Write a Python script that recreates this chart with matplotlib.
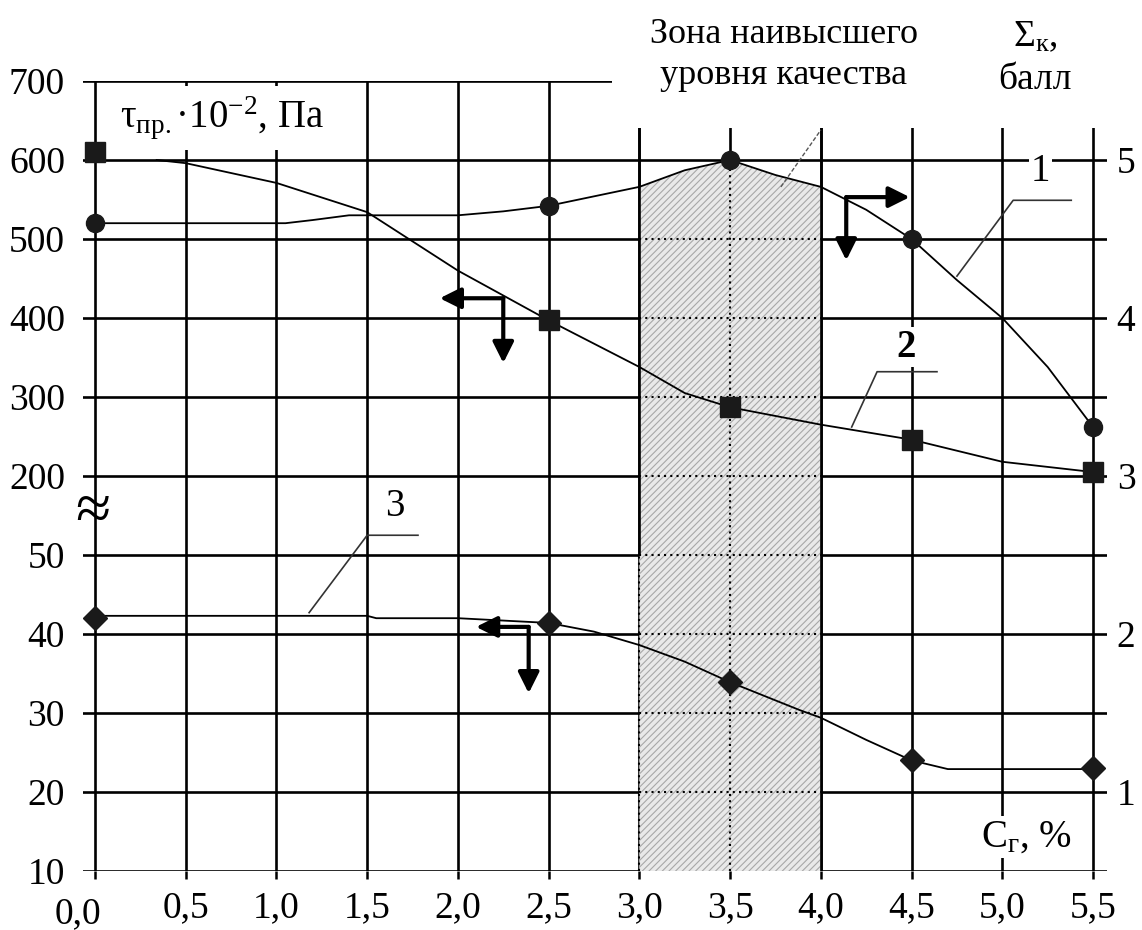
import numpy as np
import matplotlib
matplotlib.use("Agg")
import matplotlib.pyplot as plt
from matplotlib.patches import Polygon, Rectangle
from matplotlib.transforms import blended_transform_factory, ScaledTranslation

plt.rcParams['font.family'] = ['Liberation Serif', 'DejaVu Serif']
plt.rcParams['mathtext.fontset'] = 'custom'
plt.rcParams['mathtext.rm'] = 'Liberation Serif'
plt.rcParams['mathtext.it'] = 'Liberation Serif:italic'
plt.rcParams['mathtext.bf'] = 'Liberation Serif:bold'
plt.rcParams['hatch.linewidth'] = 0.8

# axes
x_ticks = [0.0, 0.5, 1.0, 1.5, 2.0, 2.5, 3.0, 3.5, 4.0, 4.5, 5.0, 5.5]
x_labels = ["0,0", "0,5", "1,0", "1,5", "2,0", "2,5", "3,0", "3,5", "4,0", "4,5", "5,0", "5,5"]
y_ticks = [10, 20, 30, 40, 50, 200, 300, 400, 500, 600, 700]
y_labels = ["10", "20", "30", "40", "50", "200", "300", "400", "500", "600", "700"]
r_ticks = [1, 2, 3, 4, 5]
r_labels = ["1", "2", "3", "4", "5"]

# broken left scale: 10..50 and 200..700
y_break = [10, 50, 200, 700]
y_break_pos = [0, 4, 5, 10]

# measured points
x_pts = [0.0, 2.5, 3.5, 4.5, 5.5]
score_pts = [4.6, 4.71, 5.0, 4.5, 3.31]      # 1: Σк, балл (right axis)
tau_pts = [610, 397, 287, 246, 205]          # 2: τпр·10^-2, Па
tau3_pts = [42, 41.4, 33.9, 24, 23]          # 3

# hand drawn curves through the points
score_line_x = [0.0, 1.05, 1.2, 1.4, 2.0, 2.25, 2.5, 3.0, 3.25, 3.5, 3.75, 4.0, 4.25, 4.5, 4.75, 5.0, 5.25, 5.5]
score_line = [4.6, 4.6, 4.62, 4.65, 4.65, 4.675, 4.71, 4.83, 4.935, 5.0, 4.905, 4.83, 4.685, 4.5, 4.24, 4.0, 3.69, 3.31]
tau_line_x = [0.34, 0.5, 1.0, 1.5, 2.0, 2.5, 3.0, 3.25, 3.5, 4.0, 4.5, 5.0, 5.5]
tau_line = [600, 596, 571, 534, 460, 397, 338, 305, 287, 265, 246, 218, 205]
tau3_line_x = [0.0, 1.5, 1.55, 2.0, 2.5, 2.75, 3.0, 3.25, 3.5, 3.88, 4.0, 4.25, 4.5, 4.7, 5.5]
tau3_line = [42.3, 42.3, 42.0, 42.0, 41.4, 40.3, 38.6, 36.5, 33.9, 30.4, 29.4, 26.6, 24.0, 22.9, 22.9]

zone_x = [3.0, 4.0]


def fwd(v):
    return np.interp(v, y_break, y_break_pos)


def inv(k):
    return np.interp(k, y_break_pos, y_break)


fig = plt.figure(figsize=(11.42, 9.30), dpi=100)
ax = fig.add_axes([83 / 1142, 59 / 930, 1024 / 1142, 790 / 930])
ax.set_yscale('function', functions=(fwd, inv))
ax2 = ax.twinx()

for a in (ax, ax2):
    for s in a.spines.values():
        s.set_visible(False)

ax.set_xticks(x_ticks)
ax.set_xticklabels(x_labels)
ax.set_yticks(y_ticks)
ax.set_yticklabels(y_labels)
ax2.set_yticks(r_ticks)
ax2.set_yticklabels(r_labels)
ax.tick_params(axis='x', length=6, width=1.8, pad=8, labelsize=27)
ax.tick_params(axis='y', length=0, pad=13, labelsize=27)
ax2.tick_params(axis='y', length=0, pad=7, labelsize=27)
ax.grid(True, color='k', lw=1.9)

# zone of the highest quality
zone_vx = [x for x in score_line_x if zone_x[0] <= x <= zone_x[1]]
zone_vy = [y for x, y in zip(score_line_x, score_line) if zone_x[0] <= x <= zone_x[1]]
verts = list(zip(zone_vx, zone_vy)) + [(zone_x[1], 0.5), (zone_x[0], 0.5)]
ax.add_patch(Polygon(verts, closed=True, transform=ax2.transData, facecolor='#e9e9e9',
                     edgecolor='#a8a8a8', hatch='/////', lw=0, zorder=1.6))
dot = (0, (1, 2))
ax.hlines([v for v in y_ticks[1:-2]], zone_x[0], zone_x[1], colors='k', linestyles=[dot], lw=1.5, zorder=1.7)
ax.vlines(sum(zone_x) / 2, y_ticks[0], y_ticks[-2], colors='k', linestyles=[dot], lw=1.5, zorder=1.7)
ax.vlines(zone_x[0], y_ticks[0], y_ticks[4], colors='k', linestyles=[dot], lw=1.5, zorder=1.7)
ax.vlines(zone_x[0], y_ticks[4], y_ticks[-1], colors='k', lw=1.9, zorder=1.7)
ax.vlines(zone_x[1], y_ticks[0], y_ticks[-1], colors='k', lw=1.9, zorder=1.7)

# white cut-out under the title
ax.add_patch(Rectangle((2.85, 0.9405), 3.5, 0.3,
                       transform=blended_transform_factory(ax.transData, ax.transAxes),
                       facecolor='white', edgecolor='none', zorder=2, clip_on=False))

# curves 2 and 3 (left axis)
ax.plot(tau_line_x, tau_line, color='k', lw=1.3, zorder=3)
ax.plot(x_pts, tau_pts, 's', color='#1a1a1a', ms=14, zorder=4, clip_on=False)
ax.plot(tau3_line_x, tau3_line, color='k', lw=1.3, zorder=3)
ax.plot(x_pts, tau3_pts, 'D', color='#1a1a1a', ms=12, zorder=4, clip_on=False)

# curve 1 (right axis)
ax2.plot(score_line_x, score_line, color='k', lw=1.3, zorder=3)
ax2.plot(x_pts, score_pts, 'o', color='#1a1a1a', ms=13, zorder=4, clip_on=False)

# axis pointer arrows
arrow_kw = dict(arrowstyle='-|>,head_length=0.7,head_width=0.35', lw=3, color='k',
                mutation_scale=18, shrinkA=0, shrinkB=0)


def corner_arrow(a, corner, x_end, y_end):
    a.annotate('', xy=(x_end, corner[1]), xytext=corner, arrowprops=arrow_kw)
    a.annotate('', xy=(corner[0], y_end), xytext=corner, arrowprops=arrow_kw)


corner_arrow(ax2, (4.14, 4.765), 4.49, 4.365)
corner_arrow(ax, (2.25, 425), 1.90, 343)
corner_arrow(ax, (2.39, 40.9), 2.10, 32.5)

# leader lines and curve numbers (right axis units are linear)
lead_kw = dict(color='#333333', lw=1.2, zorder=5)
ax2.plot([4.75, 5.06, 5.38], [4.265, 4.745, 4.745], **lead_kw)
ax2.plot([4.17, 4.31, 4.64], [3.31, 3.66, 3.66], **lead_kw)
ax2.plot([1.18, 1.50, 1.78], [2.135, 2.625, 2.625], **lead_kw)
ax2.plot([3.78, 4.0], [4.83, 5.19], color='#555555', lw=1.0, ls=(0, (3, 1.5)), zorder=5)
box = dict(facecolor='white', edgecolor='none', pad=1)
ax2.text(5.21, 4.93, "1", fontsize=28, ha='center', va='center', bbox=box, zorder=6)
ax2.text(4.47, 3.815, "2", fontsize=28, fontweight='bold', ha='center', va='center', bbox=box, zorder=6)
ax2.text(1.65, 2.805, "3", fontsize=28, ha='center', va='center', bbox=box, zorder=6)

ax.set_xlim(-0.066, 5.577)
ax.set_ylim(y_ticks[0], y_ticks[-1])
ax2.set_ylim(0.5, 5.5)

# titles
fig.text(784 / 1142, 1 - 55 / 930, "Зона наивысшего\nуровня качества", fontsize=26,
         ha='center', va='center', linespacing=1.35)
fig.text(1035 / 1142, 1 - 58 / 930, "Σ$_{\\mathrm{к}}$,\nбалл", fontsize=27,
         ha='center', va='center', linespacing=1.3)
fig.text(222 / 1142, 1 - 118 / 930, "τ$_{\\mathrm{пр.}}$·10$^{-2}$, Па", fontsize=28,
         ha='center', va='center', bbox=dict(facecolor='white', edgecolor='none', pad=6))
fig.text(1026 / 1142, 1 - 837 / 930, "C$_{\\mathrm{г}}$, %", fontsize=28,
         ha='center', va='center', bbox=dict(facecolor='white', edgecolor='none', pad=2))
fig.text(93 / 1142, 1 - 514 / 930, "≈", fontsize=46, ha='center', va='center')

lab = ax.get_xticklabels()[0]
lab.set_transform(lab.get_transform() + ScaledTranslation(-0.17, -0.06, fig.dpi_scale_trans))

fig.savefig("out.png", dpi=100, facecolor='white')
